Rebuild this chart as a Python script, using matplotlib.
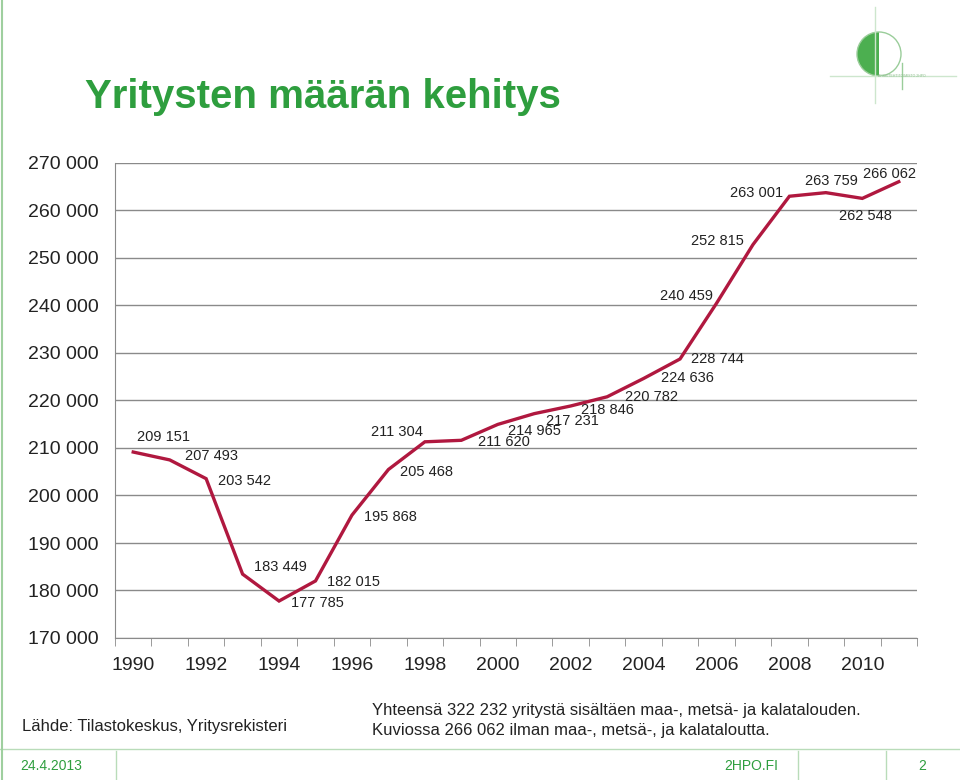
import matplotlib
matplotlib.use('Agg')
import matplotlib.pyplot as plt
import numpy as np
from matplotlib.ticker import FuncFormatter, FixedLocator
from matplotlib.patches import Circle, Wedge
from matplotlib.lines import Line2D

plt.rcParams['font.family'] = ['Liberation Sans', 'DejaVu Sans']

# data
years = list(range(1990, 2012))
companies = [209151, 207493, 203542, 183449, 177785, 182015, 195868, 205468,
             211304, 211620, 214965, 217231, 218846, 220782, 224636, 228744,
             240459, 252815, 263001, 263759, 262548, 266062]
year_labels = [str(y) for y in range(1990, 2011, 2)]

# label offsets (pixels, x right / y up) from each point
label_offsets = [(30, 15), (42, 4), (38, -2), (38, 7), (38, -2), (38, -1),
                 (38, -2), (38, -2), (-28, 10), (43, -2), (37, -7), (38, -7),
                 (37, -4), (44, 0), (44, 0), (37, 0), (-30, 7), (-36, 4),
                 (-33, 3), (6, 12), (3, -18), (-9, 8)]

green = '#2E9E3E'
line_col = '#B0183F'

def fmt(v):
    return '{:,}'.format(int(v)).replace(',', ' ')

fig = plt.figure(figsize=(9.6, 7.8), dpi=100)
ax = fig.add_axes([115 / 960, 1 - 638 / 780, 802 / 960, 475 / 780])

x = np.arange(len(years))
ax.plot(x, companies, color=line_col, lw=2.4, solid_joinstyle='miter', zorder=3)

for xi, v, (dx, dy) in zip(x, companies, label_offsets):
    ax.annotate(fmt(v), (xi, v), xytext=(dx, dy), textcoords='offset pixels',
                ha='center', va='center', fontsize=10.5, color='#222222', zorder=4)

ax.set_xlim(-0.5, len(years) - 0.5)
ax.set_ylim(170000, 270000)
ax.set_yticks(np.arange(170000, 270001, 10000))
ax.yaxis.set_major_formatter(FuncFormatter(lambda v, p: fmt(v)))
ax.grid(axis='y', color='#8a8a8a', lw=1)
ax.set_axisbelow(True)

ax.xaxis.set_major_locator(FixedLocator(list(range(0, 21, 2))))
ax.set_xticklabels(year_labels)
ax.xaxis.set_minor_locator(FixedLocator(list(np.arange(-0.5, len(years), 1.0))))
ax.tick_params(axis='x', which='major', length=0, pad=14, labelsize=14, colors='#222222')
ax.tick_params(axis='x', which='minor', length=6, direction='out', color='#8a8a8a')
ax.tick_params(axis='y', length=0, pad=12, labelsize=14, colors='#222222')

for s in ['top', 'right']:
    ax.spines[s].set_visible(False)
for s in ['left', 'bottom']:
    ax.spines[s].set_color('#8a8a8a')

# title and notes
fig.text(85 / 960, 1 - 97 / 780, 'Yritysten määrän kehitys', fontsize=29,
         fontweight='bold', color=green, ha='left', va='center')
fig.text(22 / 960, 1 - 727 / 780, 'Lähde: Tilastokeskus, Yritysrekisteri',
         fontsize=12, color='#222222', ha='left', va='center')
fig.text(372 / 960, 1 - 711 / 780,
         'Yhteensä 322 232 yritystä sisältäen maa-, metsä- ja kalatalouden.',
         fontsize=12, color='#222222', ha='left', va='center')
fig.text(372 / 960, 1 - 730 / 780,
         'Kuviossa 266 062 ilman maa-, metsä-, ja kalataloutta.',
         fontsize=12, color='#222222', ha='left', va='center')

# footer
fc = '#b9dcb9'
fig.add_artist(Line2D([0, 1], [1 - 749 / 780] * 2, color=fc, lw=1))
for xs in [116, 798, 886]:
    fig.add_artist(Line2D([xs / 960] * 2, [0, 1 - 751 / 780], color=fc, lw=1))
fig.add_artist(Line2D([2 / 960] * 2, [0, 1], color='#9fcf9f', lw=1.5))
fig.text(20 / 960, 1 - 766 / 780, '24.4.2013', fontsize=10, color=green, va='center')
fig.text(751 / 960, 1 - 766 / 780, '2HPO.FI', fontsize=10, color=green, va='center', ha='center')
fig.text(922 / 960, 1 - 766 / 780, '2', fontsize=10, color=green, va='center', ha='center')

# logo
lax = fig.add_axes([820 / 960, 1 - 110 / 780, 140 / 960, 110 / 780])
lax.set_xlim(820, 960)
lax.set_ylim(110, 0)
lax.set_aspect('equal')
lax.axis('off')
lax.add_patch(Wedge((879, 54), 22, 90, 270, facecolor='#4CAF50', edgecolor='none'))
lax.add_patch(Circle((879, 54), 22, facecolor='none', edgecolor='#9acd9a', lw=1))
lax.plot([875, 875], [7, 103], color='#cde6cd', lw=1)
lax.plot([830, 956], [76, 76], color='#cde6cd', lw=1)
lax.plot([902, 902], [63, 89], color='#9acd9a', lw=1)
lax.text(878, 76, 'ARKKITEHTITOIMISTO 2HPO', fontsize=2.5, color='#8fc08f', va='center')

fig.savefig('out.png', dpi=100)
